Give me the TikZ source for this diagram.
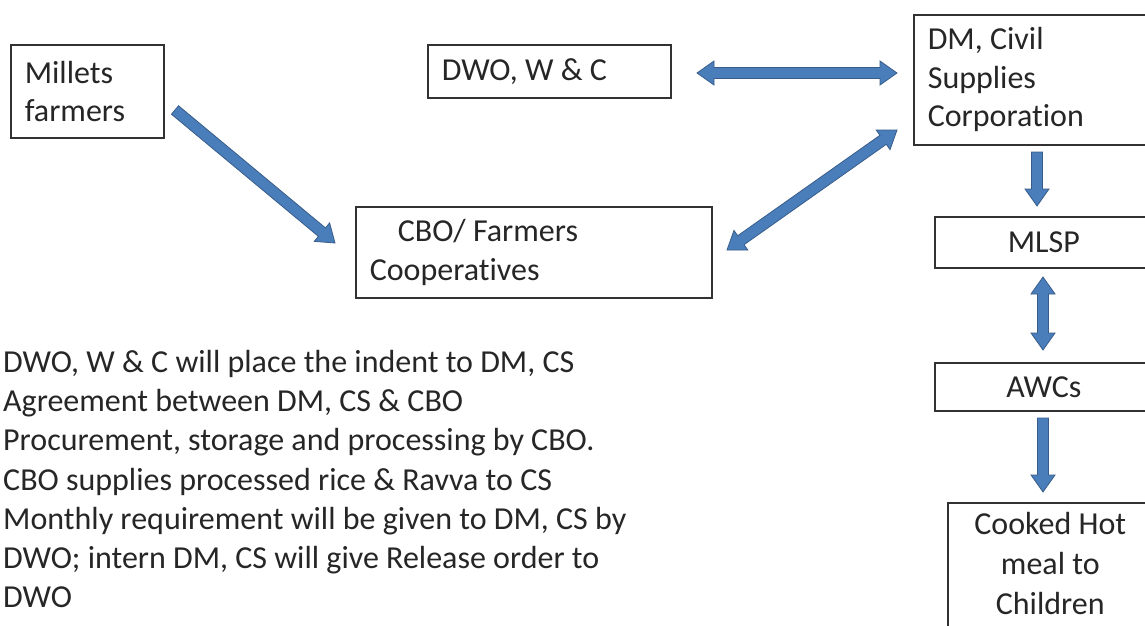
\documentclass[tikz,border=0pt]{standalone}
\usepackage{fontspec}
\setmainfont{Carlito}[Ligatures=NoCommon]
\usetikzlibrary{calc}
\definecolor{arrfill}{RGB}{74,126,187}
\definecolor{arrline}{RGB}{56,93,138}
\definecolor{txt}{RGB}{38,38,38}
\definecolor{boxline}{RGB}{50,50,50}
\tikzset{
  box/.style={draw=boxline, line width=1.6pt, rectangle, anchor=north west,
    inner ysep=0pt, text=txt, font=\fontsize{32}{38.5}\selectfont},
  lbox/.style={box, align=flush left, inner xsep=14pt},
  cbox/.style={box, align=flush center, inner xsep=0pt},
  boxtext/.style={anchor=north, align=flush center, inner sep=0pt, text=txt,
    font=\fontsize{32}{40}\selectfont},
  blockarrow/.style={fill=arrfill, draw=arrline, line width=0.8pt, line join=miter},
  para/.style={anchor=north west, align=flush left, inner sep=0pt, text=txt,
    font=\fontsize{32}{39.2}\selectfont}
}
% single-headed block arrow from #1 to #2
\newcommand\blkarrow[2]{%
  \coordinate (tmpC) at ($(#2)!17pt!(#1)$);
  \path[blockarrow] ($(#1)!5.5pt!90:(#2)$) -- ($(tmpC)!5.5pt!90:(#2)$)
    -- ($(tmpC)!12pt!90:(#2)$) -- (#2) -- ($(tmpC)!12pt!-90:(#2)$)
    -- ($(tmpC)!5.5pt!-90:(#2)$) -- ($(#1)!5.5pt!-90:(#2)$) -- cycle;}
% double-headed block arrow between #1 and #2
\newcommand\dblarrow[2]{%
  \coordinate (tmpA) at ($(#1)!17pt!(#2)$);
  \coordinate (tmpB) at ($(#2)!17pt!(#1)$);
  \path[blockarrow] ($(tmpA)!5.5pt!90:(#2)$) -- ($(tmpB)!5.5pt!90:(#2)$)
    -- ($(tmpB)!12pt!90:(#2)$) -- (#2) -- ($(tmpB)!12pt!-90:(#2)$)
    -- ($(tmpB)!5.5pt!-90:(#2)$) -- ($(tmpA)!5.5pt!-90:(#2)$)
    -- ($(tmpA)!12pt!-90:(#2)$) -- (#1) -- ($(tmpA)!12pt!90:(#2)$) -- cycle;}
\begin{document}
\begin{tikzpicture}[x=1pt,y=-1pt]
\useasboundingbox (0,0) rectangle (1145,626);
\clip (0,0) rectangle (1145,626);
\fill[white] (0,0) rectangle (1145,626);

% boxes
\node[lbox, minimum width=153pt, minimum height=93pt, text width=125pt] (mf) at (10,44) {Millets\\farmers};
\node[lbox, minimum width=243pt, minimum height=53pt, text width=215pt] (dwo) at (427,44) {DWO, W \& C};
\node[lbox, minimum width=250pt, minimum height=130pt, text width=222pt] (dm) at (913,14) {DM, Civil\\Supplies\\Corporation};
\node[lbox, minimum width=356pt, minimum height=91pt, text width=328pt] (cbo) at (355,206) {\hspace*{28pt}CBO/ Farmers\\Cooperatives};
\node[cbox, minimum width=218pt, minimum height=51pt, text width=218pt] (mlsp) at (934,216) {MLSP};
\node[cbox, minimum width=218pt, minimum height=48pt, text width=218pt] (awc) at (934,362) {AWCs};
\node[cbox, minimum width=205pt, minimum height=150pt] (meal) at (947,502) {};
\node[boxtext] (mealtext) at ([yshift=-10pt]meal.north) {Cooked Hot\\meal to\\Children};

% text block
\node[para] (notes) at (3,350) {DWO, W \& C will place the indent to DM, CS\\
Agreement between DM, CS \& CBO\\
Procurement, storage and processing by CBO.\\
CBO supplies processed rice \& Ravva to CS\\
Monthly requirement will be given to DM, CS by\\
DWO; intern DM, CS will give Release order to\\
DWO};

% arrow end points
\coordinate (a1) at (175,110);
\coordinate (b1) at (335,243);
\coordinate (a2) at (697,73);
\coordinate (b2) at (897,73);
\coordinate (a3) at (727,250);
\coordinate (b3) at (897,130);
\coordinate (a4) at (1037,152);
\coordinate (b4) at (1037,206);
\coordinate (a5) at (1043,277);
\coordinate (b5) at (1043,350);
\coordinate (a6) at (1043,418);
\coordinate (b6) at (1043,492);

\blkarrow{a1}{b1}
\dblarrow{a2}{b2}
\dblarrow{a3}{b3}
\blkarrow{a4}{b4}
\dblarrow{a5}{b5}
\blkarrow{a6}{b6}
\end{tikzpicture}
\end{document}
